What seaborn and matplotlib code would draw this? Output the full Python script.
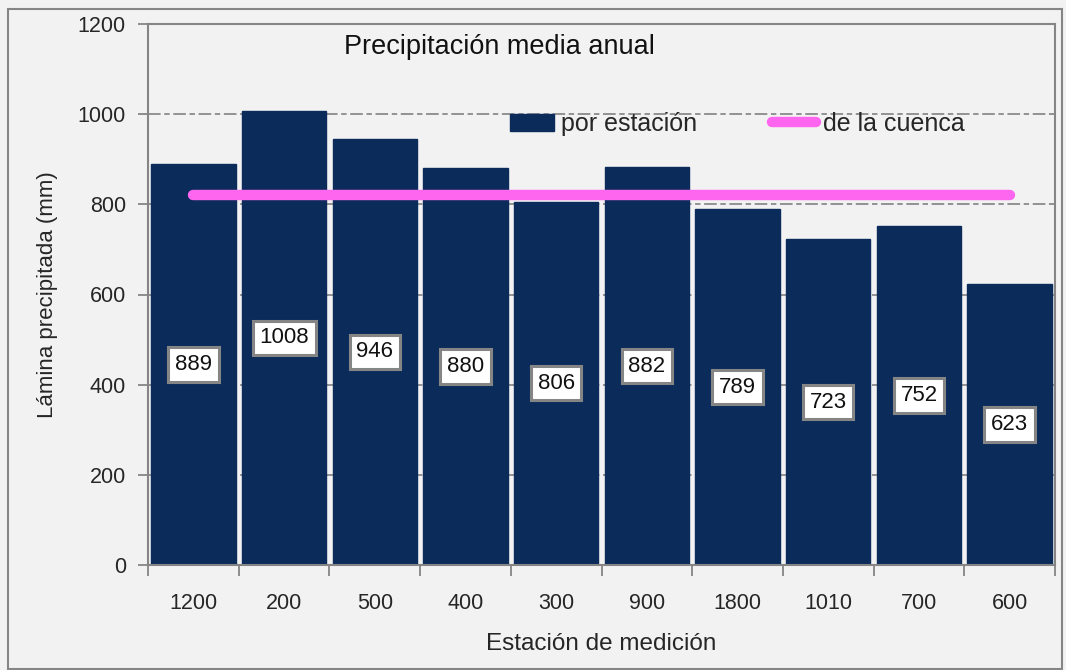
import numpy as np
import pandas as pd
import matplotlib
matplotlib.use("Agg")
import matplotlib.pyplot as plt
from matplotlib.patches import Patch, Rectangle
from matplotlib.lines import Line2D
import seaborn as sns

# Annual mean precipitation per gauging station (mm)
stations = ["1200", "200", "500", "400", "300", "900", "1800", "1010", "700", "600"]
precip_mm = [889, 1008, 946, 880, 806, 882, 789, 723, 752, 623]
basin_mean_mm = 820

BAR_COLOR = "#0b2c5b"
LINE_COLOR = "#ff66f0"
BG = "#f2f2f2"
GREY = "#858585"

sns.set_theme(style="white")
plt.rcParams["font.family"] = ["Liberation Sans", "DejaVu Sans"]

df = pd.DataFrame({"estacion": stations, "lamina": precip_mm})

fig = plt.figure(figsize=(10.66, 6.70), dpi=100, facecolor=BG)
ax = fig.add_axes([148 / 1066, 1 - 565 / 670, (1055 - 148) / 1066, (565 - 24) / 670])
ax.set_facecolor(BG)

sns.barplot(data=df, x="estacion", y="lamina", color=BAR_COLOR, width=0.93,
            saturation=1, ax=ax, zorder=2, edgecolor=BAR_COLOR)

sns.pointplot(x=stations, y=[basin_mean_mm] * len(stations), color=LINE_COLOR,
              markers="", linestyles="-", linewidth=7.5, errorbar=None, ax=ax)
for ln in ax.lines:
    ln.set_solid_capstyle("round")
    ln.set_zorder(4)

# value boxes at mid-height of each bar
for i, v in enumerate(precip_mm):
    ax.text(i, v / 2, f"{v}", ha="center", va="center", fontsize=16, color="#111111",
            zorder=5,
            bbox=dict(boxstyle="square,pad=0.3", facecolor="white", edgecolor=GREY, linewidth=2.2))

ax.set_ylim(0, 1200)
ax.set_xlim(-0.5, len(stations) - 0.5)
ax.set_yticks(np.arange(0, 1201, 200))
ax.yaxis.grid(True, color="#8a8a8a", linestyle=(0, (7, 2, 3, 2)), linewidth=1.3, zorder=0)
ax.set_axisbelow(True)

# ticks at category boundaries, labels at centers
ax.set_xticks(np.arange(-0.5, len(stations), 1), minor=True)
ax.tick_params(axis="x", which="minor", length=8, width=1.3, color=GREY, direction="out", bottom=True)
ax.tick_params(axis="x", which="major", length=0, pad=20, labelsize=15.5)
ax.tick_params(axis="y", which="major", length=7, width=1.3, color=GREY, direction="out",
               left=True, pad=9, labelsize=15.5)

for s in ax.spines.values():
    s.set_color(GREY)
    s.set_linewidth(1.5)

ax.set_xlabel("Estación de medición", fontsize=17.5, labelpad=14)
ax.set_ylabel("Lámina precipitada (mm)", fontsize=16, labelpad=14)

ax.text(0.388, 0.958, "Precipitación media anual", transform=ax.transAxes,
        ha="center", va="center", fontsize=19.5, color="#111111")

handles = [Patch(facecolor=BAR_COLOR, edgecolor=BAR_COLOR, label="por estación"),
           Line2D([0], [0], color=LINE_COLOR, linewidth=7.5, solid_capstyle="round",
                  label="de la cuenca")]
ax.legend(handles=handles, loc="center", bbox_to_anchor=(0.65, 0.815), ncol=2,
          frameon=False, fontsize=18, handlelength=1.75, handletextpad=0.3,
          columnspacing=3.0)

# outer chart border
fig.patches.append(Rectangle((8 / 1066, 1 / 670), 1054 / 1066, 660 / 670,
                             transform=fig.transFigure, fill=False,
                             edgecolor=GREY, linewidth=1.5))

fig.savefig("out.png", dpi=100, facecolor=BG)
